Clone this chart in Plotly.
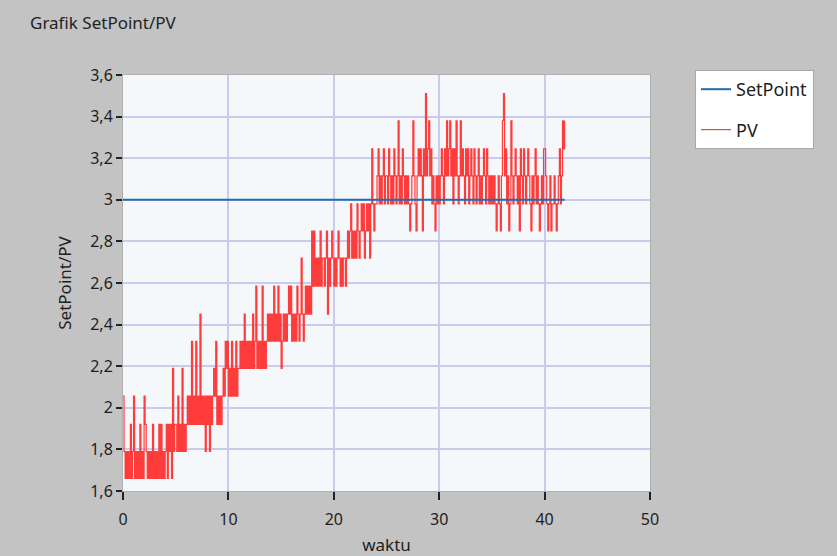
import plotly.graph_objects as go

# Quantized PV levels
LEVELS = [1.66, 1.79, 1.92, 2.056, 2.19, 2.32, 2.45, 2.585, 2.72, 2.85,
          2.98, 3.115, 3.245, 3.38, 3.51]

# PV samples every 0.1 s, one row per second, each char = level index (hex-like)
PV_CODES = [
    "3101010201",  # t 0
    "3010102010",  # t 1
    "3210101020",  # t 2
    "1010202010",  # t 3
    "1202120412",  # t 4
    "2131214121",  # t 5
    "2323252325",  # t 6
    "2326232313",  # t 7
    "2313234352",  # t 8
    "3232343545",  # t 9
    "3435343534",  # t 10
    "4545464545",  # t 11
    "4546457454",  # t 12
    "5474545656",  # t 13
    "5657565756",  # t 14
    "4565656767",  # t 15
    "5656576568",  # t 16
    "6567676769",  # t 17
    "7978787978",  # t 18
    "8789687898",  # t 19
    "7878987878",  # t 20
    "878989A898",  # t 21
    "98A989A9A8",  # t 22
    "9A9A8ACA9A",  # t 23
    "ABCABABCAB",  # t 24
    "BACBABACBA",  # t 25
    "BDABACBABA",  # t 26
    "BA9ABDBA9B",  # t 27
    "CBCB9CBEBC",  # t 28
    "DBCABA9BAB",  # t 29
    "ABCBACBDBC",  # t 30
    "DBCACBDBAB",  # t 31
    "DBCBACBCAB",  # t 32
    "CBACBABCAB",  # t 33
    "ABCBACBABA",  # t 34
    "BABA9ABA9B",  # t 35
    "DEBCAB9ADB",  # t 36
    "ABCBAB9CBA",  # t 37
    "CBABCBA9BA",  # t 38
    "BCABA9ABAC",  # t 39
    "CBA9AB9AAB",  # t 40
    "A9ABCABDCD",  # t 41
]
DT = 0.1

SETPOINT_X = [0, 41.9]
SETPOINT_Y = [3.0, 3.0]

X_TICKS = [0, 10, 20, 30, 40, 50]
Y_TICKS = [1.6, 1.8, 2.0, 2.2, 2.4, 2.6, 2.8, 3.0, 3.2, 3.4, 3.6]

codes = "".join(PV_CODES)
pv_y = [LEVELS[int(c, 16)] for c in codes]
pv_x = [i * DT for i in range(len(pv_y))]

FONT = "Noto Sans"
W, H = 837, 556
L, R, T, B = 123, 650, 75, 491

fig = go.Figure()
fig.add_trace(go.Scatter(x=SETPOINT_X, y=SETPOINT_Y, mode="lines", name="SetPoint",
                         legendgroup="sp", legendrank=1,
                         line=dict(color="#1f6db0", width=2)))
fig.add_trace(go.Scatter(x=pv_x, y=pv_y, mode="lines", name="PV",
                         legendgroup="pv", legendrank=2,
                         line=dict(color="#ff3c3c", width=1.2, shape="hv")))
# keep setpoint drawn on top of the PV trace
fig.data = (fig.data[1], fig.data[0])

fig.update_layout(
    width=W, height=H,
    margin=dict(l=L, r=W - R, t=T, b=H - B, autoexpand=False),
    paper_bgcolor="#c3c3c3",
    plot_bgcolor="#f5f8fa",
    separators=",.",
    font=dict(family=FONT, size=14, color="#1e1e1e"),
    title=dict(text="Grafik SetPoint/PV", xref="container", yref="container",
               x=30 / W, xanchor="left",
               y=1 - 23 / H, yanchor="middle",
               font=dict(family=FONT, size=17, color="#222222")),
    showlegend=True,
    legend=dict(x=(695 - L) / (R - L), xanchor="left",
                y=1 + (T - 70) / (B - T), yanchor="top",
                bgcolor="#ffffff", bordercolor="#a8a8a8", borderwidth=1,
                font=dict(family=FONT, size=18, color="#1e1e1e"),
                tracegroupgap=14, itemwidth=30),
    xaxis=dict(range=[0, 50], tickvals=X_TICKS, ticks="outside", ticklen=8,
               tickcolor="#222222", tickwidth=1.5, ticklabelstandoff=6,
               showgrid=True, gridcolor="#cacaee", gridwidth=1.5,
               zeroline=False, showline=True, mirror=True, linecolor="#b0b0b0",
               tickfont=dict(size=16, color="#1e1e1e"),
               title=dict(text="waktu", standoff=12,
                          font=dict(size=17, color="#1e1e1e"))),
    yaxis=dict(range=[1.6, 3.6], tickvals=Y_TICKS, ticks="outside", ticklen=6,
               tickcolor="#222222", tickwidth=1.5,
               showgrid=True, gridcolor="#cacaee", gridwidth=1.5,
               zeroline=False, showline=True, mirror=True, linecolor="#b0b0b0",
               tickfont=dict(size=16, color="#1e1e1e"),
               title=dict(text="SetPoint/PV", standoff=14,
                          font=dict(size=17, color="#1e1e1e"))),
)

fig.write_html("out.html")
